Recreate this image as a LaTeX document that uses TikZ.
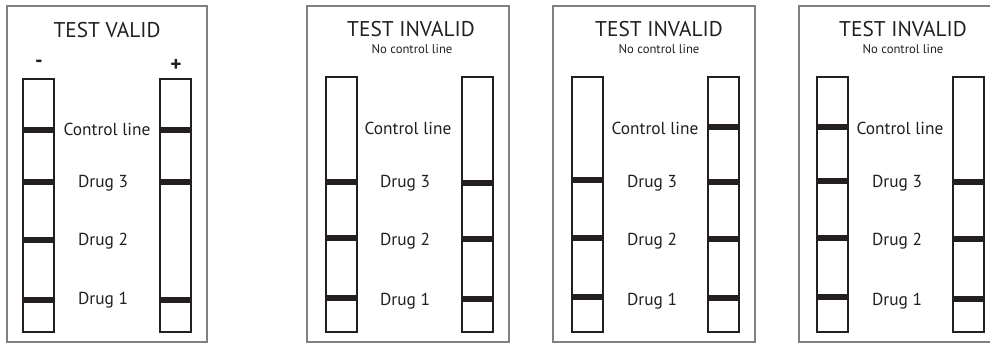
\documentclass[tikz,border=0pt]{standalone}
\usepackage{fontspec}
\setmainfont{PT Sans}
\definecolor{panelgray}{RGB}{128,128,128}
\definecolor{stripblack}{RGB}{35,31,32}
\tikzset{
	panel/.style={draw=panelgray, line width=1.1pt},
	strip/.style={draw=stripblack, line width=1.5pt},
	band/.style={draw=stripblack, line width=4pt},
	title/.style={inner sep=0.75pt, text=stripblack, font=\fontsize{16}{18}\selectfont},
	subtitle/.style={inner sep=0.75pt, text=stripblack, font=\fontsize{9.5}{11}\selectfont},
	lbl/.style={inner sep=0.75pt, text=stripblack, font=\fontsize{13}{15}\selectfont},
	sign/.style={inner sep=0.75pt, text=stripblack, font=\fontsize{16}{18}\selectfont\bfseries},
}
\begin{document}
\begin{tikzpicture}[x=0.75pt,y=0.75pt,yscale=-1,xscale=1]
	\useasboundingbox (0,0) rectangle (990,344);
	\clip (0,0) rectangle (990,344);
	
	%Shape: Rectangle [panel valid]
	\draw  [panel]  (7,6) -- (207,6) -- (207,342) -- (7,342) -- cycle ;
	%Shape: Rectangle [strip minus]
	\draw  [strip]  (23,79) -- (54,79) -- (54,332) -- (23,332) -- cycle ;
	%Shape: Rectangle [strip plus]
	\draw  [strip]  (160,79) -- (191,79) -- (191,332) -- (160,332) -- cycle ;
	%Straight Lines [bands minus]
	\draw  [band]  (23,130) -- (54,130) ;
	\draw  [band]  (23,182) -- (54,182) ;
	\draw  [band]  (23,240) -- (54,240) ;
	\draw  [band]  (23,300) -- (54,300) ;
	%Straight Lines [bands plus]
	\draw  [band]  (160,130) -- (191,130) ;
	\draw  [band]  (160,182) -- (191,182) ;
	\draw  [band]  (160,300) -- (191,300) ;
	
	%Shape: Rectangle [panel invalid a]
	\draw  [panel]  (307,6) -- (509,6) -- (509,342) -- (307,342) -- cycle ;
	%Shape: Rectangle [strip a left]
	\draw  [strip]  (326,77) -- (357,77) -- (357,332) -- (326,332) -- cycle ;
	%Shape: Rectangle [strip a right]
	\draw  [strip]  (462,77) -- (493,77) -- (493,332) -- (462,332) -- cycle ;
	%Straight Lines [bands a]
	\draw  [band]  (326,182) -- (357,182) ;
	\draw  [band]  (326,238) -- (357,238) ;
	\draw  [band]  (326,298) -- (357,298) ;
	\draw  [band]  (462,183) -- (493,183) ;
	\draw  [band]  (462,239) -- (493,239) ;
	\draw  [band]  (462,299) -- (493,299) ;
	
	%Shape: Rectangle [panel invalid b]
	\draw  [panel]  (553,6) -- (755,6) -- (755,342) -- (553,342) -- cycle ;
	%Shape: Rectangle [strip b left]
	\draw  [strip]  (572,77) -- (603,77) -- (603,332) -- (572,332) -- cycle ;
	%Shape: Rectangle [strip b right]
	\draw  [strip]  (708,77) -- (739,77) -- (739,332) -- (708,332) -- cycle ;
	%Straight Lines [bands b]
	\draw  [band]  (572,180) -- (603,180) ;
	\draw  [band]  (572,238) -- (603,238) ;
	\draw  [band]  (572,297) -- (603,297) ;
	\draw  [band]  (708,127) -- (739,127) ;
	\draw  [band]  (708,182) -- (739,182) ;
	\draw  [band]  (708,239) -- (739,239) ;
	\draw  [band]  (708,298) -- (739,298) ;
	
	%Shape: Rectangle [panel invalid c]
	\draw  [panel]  (799,6) -- (1001,6) -- (1001,342) -- (799,342) -- cycle ;
	%Shape: Rectangle [strip c left]
	\draw  [strip]  (817,77) -- (848,77) -- (848,332) -- (817,332) -- cycle ;
	%Shape: Rectangle [strip c right]
	\draw  [strip]  (953,77) -- (984,77) -- (984,332) -- (953,332) -- cycle ;
	%Straight Lines [bands c]
	\draw  [band]  (817,127) -- (848,127) ;
	\draw  [band]  (817,181) -- (848,181) ;
	\draw  [band]  (817,238) -- (848,238) ;
	\draw  [band]  (817,297) -- (848,297) ;
	\draw  [band]  (953,182) -- (984,182) ;
	\draw  [band]  (953,239) -- (984,239) ;
	\draw  [band]  (953,299) -- (984,299) ;
	
	% Text Node
	\draw (107,30) node [title] (validTitle) {TEST VALID};
	% Text Node
	\draw (39,64) node [sign] (minusSign) {-};
	% Text Node
	\draw (176,65) node [sign] (plusSign) {+};
	% Text Node
	\draw (107,129) node [lbl] (validCtrl) {Control line};
	% Text Node
	\draw (103,183) node [lbl] (validDrugC) {Drug 3};
	% Text Node
	\draw (103,241) node [lbl] (validDrugB) {Drug 2};
	% Text Node
	\draw (103,300) node [lbl] (validDrugA) {Drug 1};
	
	% Text Node
	\draw (411,29) node [title] (invATitle) {TEST INVALID};
	% Text Node
	\draw (412,49) node [subtitle] (invANote) {No control line};
	% Text Node
	\draw (408,128) node [lbl] (invACtrl) {Control line};
	% Text Node
	\draw (405,183) node [lbl] (invADrugC) {Drug 3};
	% Text Node
	\draw (405,241) node [lbl] (invADrugB) {Drug 2};
	% Text Node
	\draw (405,301) node [lbl] (invADrugA) {Drug 1};
	
	% Text Node
	\draw (659,29) node [title] (invBTitle) {TEST INVALID};
	% Text Node
	\draw (659,49) node [subtitle] (invBNote) {No control line};
	% Text Node
	\draw (655,128) node [lbl] (invBCtrl) {Control line};
	% Text Node
	\draw (652,183) node [lbl] (invBDrugC) {Drug 3};
	% Text Node
	\draw (652,241) node [lbl] (invBDrugB) {Drug 2};
	% Text Node
	\draw (652,301) node [lbl] (invBDrugA) {Drug 1};
	
	% Text Node
	\draw (903,29) node [title] (invCTitle) {TEST INVALID};
	% Text Node
	\draw (903,49) node [subtitle] (invCNote) {No control line};
	% Text Node
	\draw (900,128) node [lbl] (invCCtrl) {Control line};
	% Text Node
	\draw (897,183) node [lbl] (invCDrugC) {Drug 3};
	% Text Node
	\draw (897,241) node [lbl] (invCDrugB) {Drug 2};
	% Text Node
	\draw (897,301) node [lbl] (invCDrugA) {Drug 1};
	
\end{tikzpicture}
\end{document}
